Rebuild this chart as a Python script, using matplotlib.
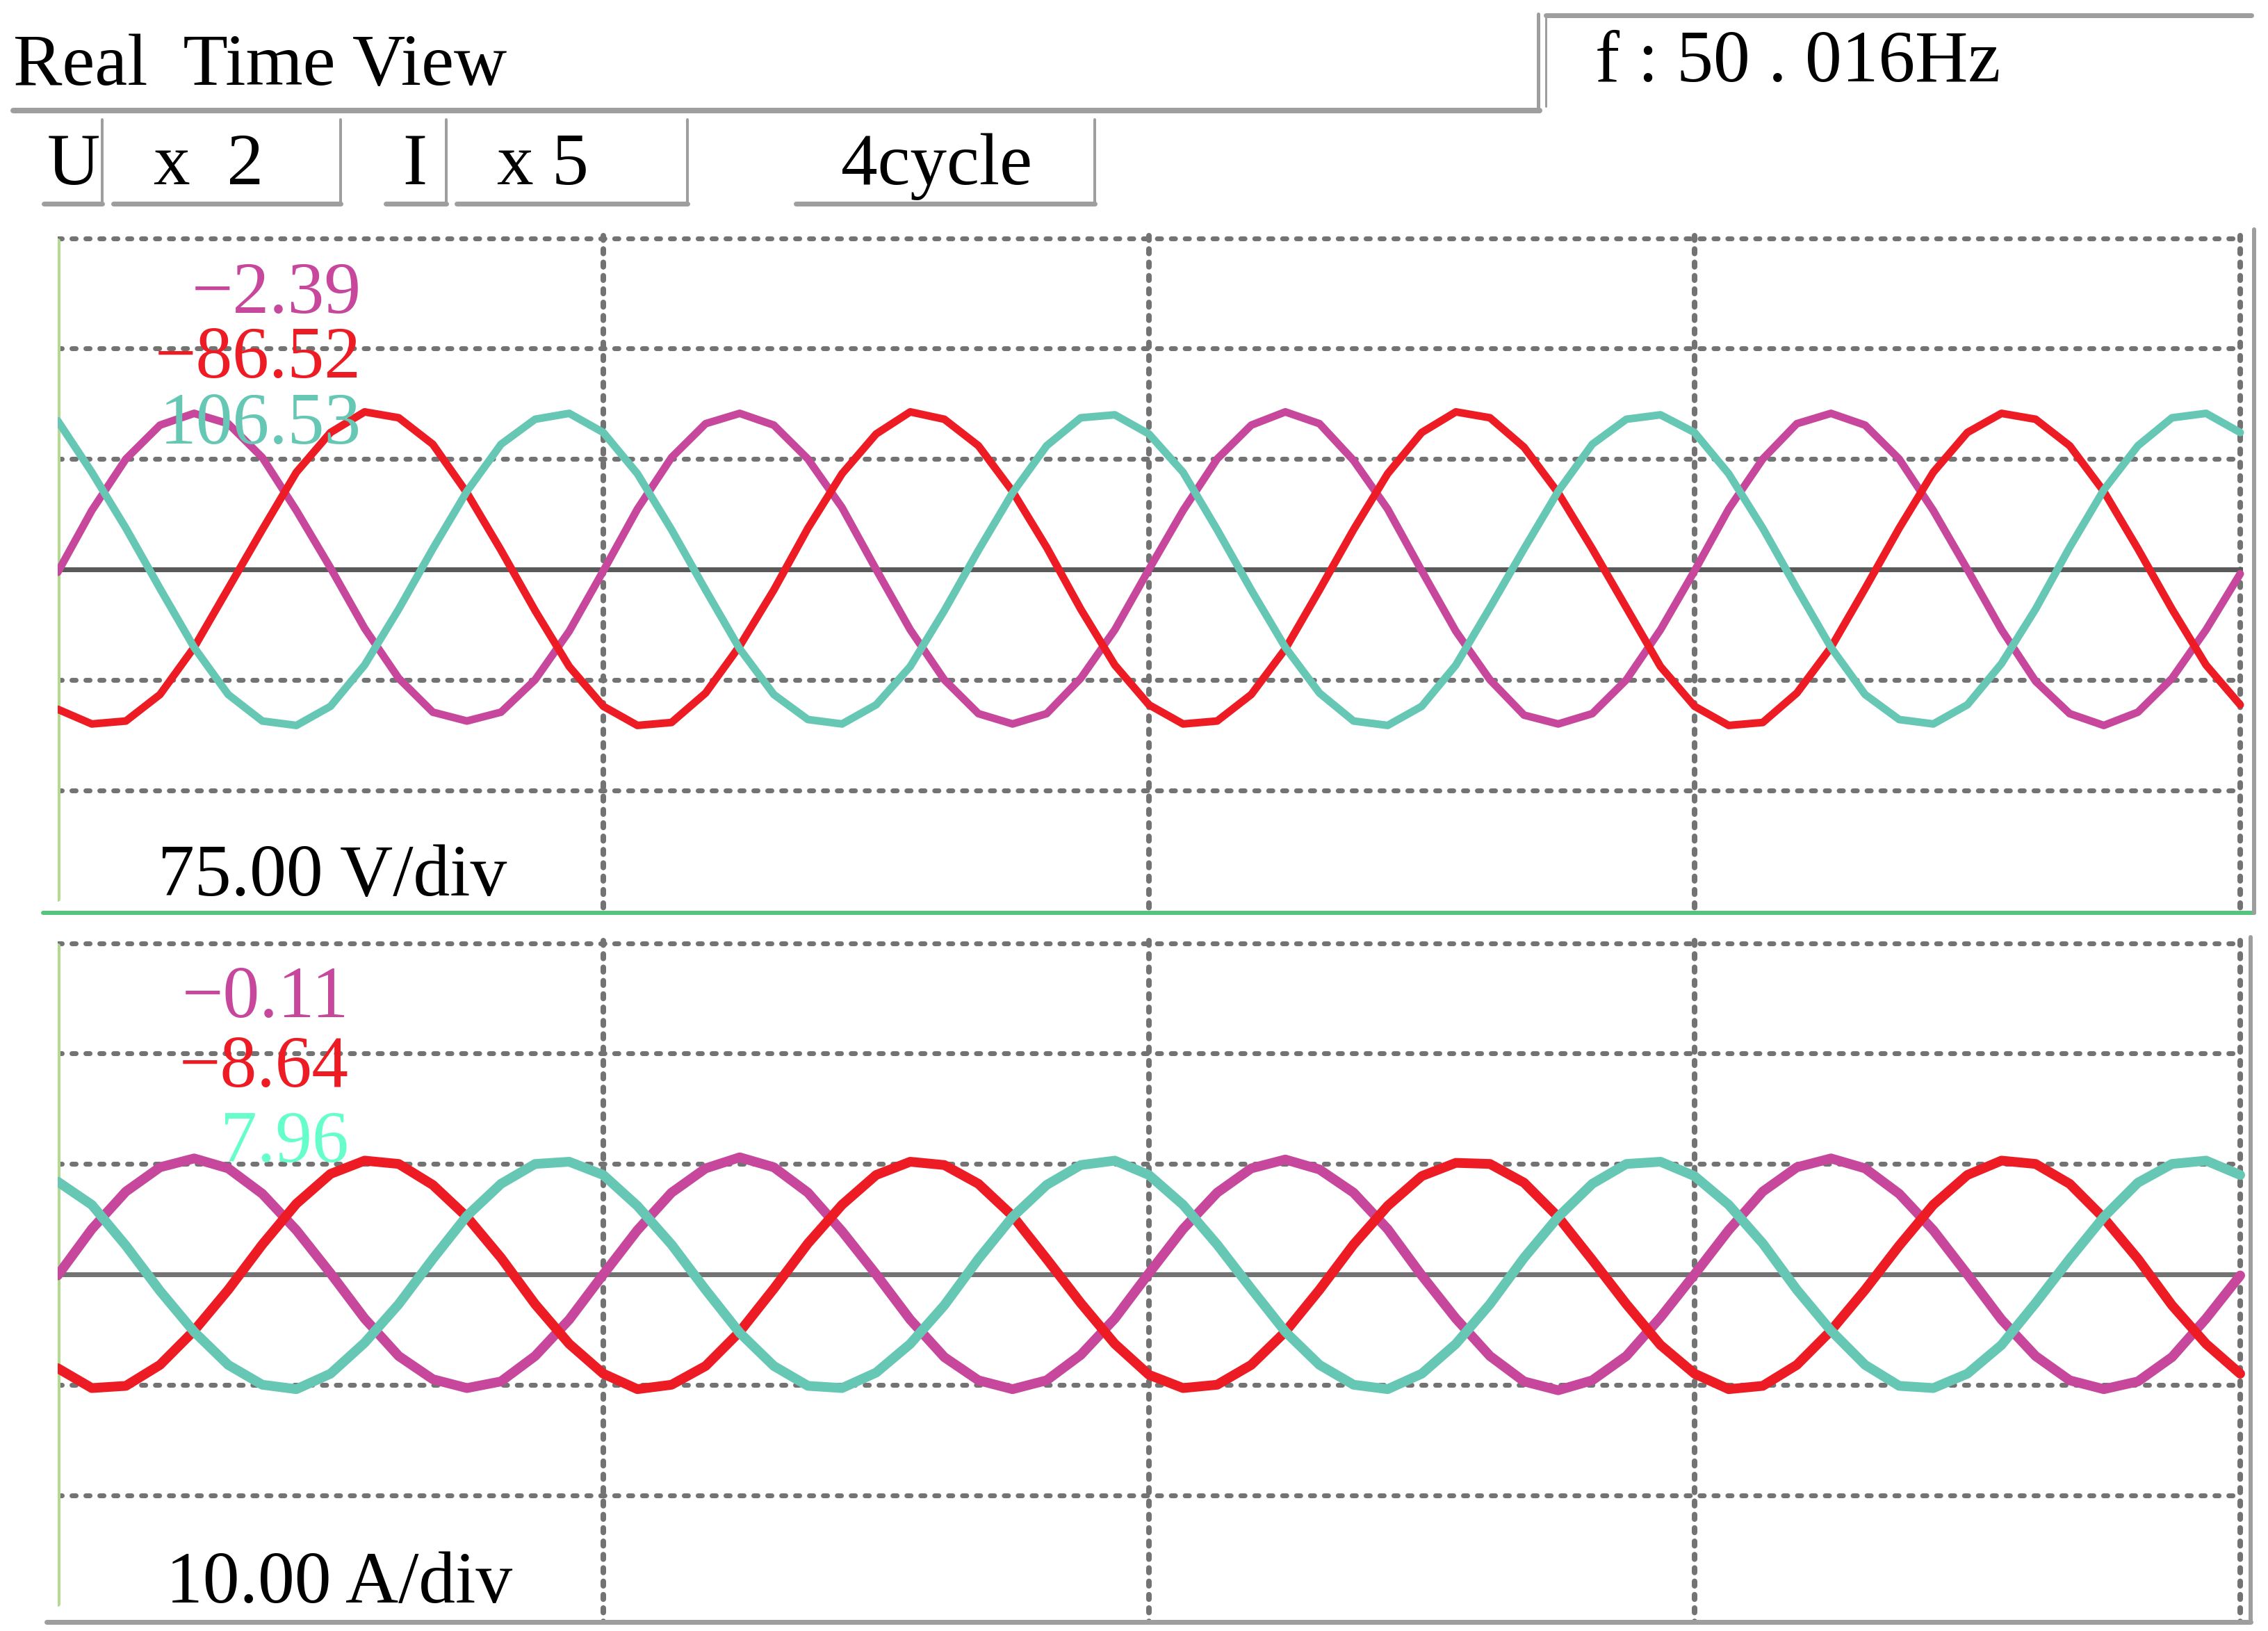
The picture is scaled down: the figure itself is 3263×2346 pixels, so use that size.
import numpy as np
import matplotlib
matplotlib.use("Agg")
import matplotlib.pyplot as plt

# ---------------- data ----------------
sample_step_ms = 1.25          # trace sampling interval (16 samples per 20 ms cycle)
cycle_ms = 20.0                # one division = one cycle
n_div_x = 4

header_title = "Real  Time View"
freq_label = "f : 50 . 016Hz"
u_label, u_gain = "U", "x  2"
i_label, i_gain = "I", "x 5"
cycles_label = "4cycle"
volt_scale_label = "75.00 V/div"
amp_scale_label = "10.00 A/div"
volt_per_div = 75.0
amp_per_div = 10.0

volt_readouts = ["\u22122.39", "\u221286.52", "106.53"]
amp_readouts = ["\u22120.11", "\u22128.64", "7.96"]

# phase voltages (V)
u_magenta = [-2, 40, 75, 98, 106, 99, 76, 40, 1, -40, -74, -97, -103, -97, -75, -42,
             -1, 41, 76, 99, 106, 98, 75, 42, 0, -41, -75, -98, -105, -98, -74, -41,
             0, 40, 75, 98, 107, 99, 74, 41, -1, -42, -75, -99, -105, -98, -75, -41,
             -1, 41, 75, 99, 106, 98, 75, 40, 0, -41, -76, -98, -106, -97, -74, -41,
             -3]
u_red = [-95, -105, -103, -85, -53, -13, 27, 66, 93, 107, 103, 85, 52, 13, -28, -66,
         -93, -106, -104, -84, -52, -14, 28, 65, 92, 107, 102, 84, 53, 15, -27, -65,
         -92, -105, -103, -85, -54, -14, 27, 65, 93, 107, 103, 83, 52, 14, -26, -66,
         -93, -106, -104, -84, -53, -13, 28, 66, 93, 106, 102, 84, 53, 14, -27, -65,
         -92]
u_teal = [101, 66, 28, -13, -53, -85, -103, -106, -93, -65, -27, 14, 53, 85, 102, 106,
          93, 65, 27, -14, -54, -85, -102, -105, -92, -66, -28, 13, 52, 84, 103, 105,
          92, 66, 27, -14, -53, -84, -103, -106, -93, -65, -26, 14, 53, 85, 102, 105,
          93, 65, 28, -13, -53, -85, -102, -105, -92, -64, -27, 15, 54, 84, 103, 106,
          93]

# phase currents (A)
i_magenta = [-0.1, 4.1, 7.5, 9.7, 10.5, 9.6, 7.3, 4.0, 0.1, -4.0, -7.4, -9.5, -10.3, -9.7, -7.4, -4.1,
             0.0, 4.0, 7.4, 9.6, 10.6, 9.7, 7.4, 3.9, 0.0, -4.1, -7.5, -9.6, -10.4, -9.6, -7.3, -4.0,
             0.1, 4.1, 7.4, 9.6, 10.4, 9.5, 7.4, 4.1, -0.1, -4.0, -7.4, -9.7, -10.5, -9.6, -7.4, -3.9,
             0.0, 4.0, 7.5, 9.7, 10.5, 9.6, 7.3, 4.0, 0.0, -4.1, -7.4, -9.6, -10.4, -9.7, -7.5, -4.0,
             -0.1]
i_red = [-8.5, -10.3, -10.1, -8.2, -5.1, -1.4, 2.7, 6.4, 9.1, 10.3, 10.0, 8.1, 5.2, 1.5, -2.7, -6.3,
         -9.0, -10.4, -10.0, -8.3, -5.2, -1.3, 2.8, 6.3, 9.0, 10.2, 9.9, 8.2, 5.3, 1.4, -2.6, -6.3,
         -9.1, -10.3, -10.0, -8.2, -5.2, -1.4, 2.7, 6.2, 8.9, 10.1, 10.0, 8.3, 5.2, 1.3, -2.7, -6.4,
         -9.0, -10.4, -10.1, -8.2, -5.1, -1.4, 2.6, 6.3, 9.0, 10.3, 10.0, 8.2, 5.1, 1.4, -2.8, -6.3,
         -9.0]
i_teal = [8.4, 6.3, 2.6, -1.5, -5.2, -8.2, -10.0, -10.4, -9.0, -6.2, -2.7, 1.4, 5.3, 8.2, 10.0, 10.2,
          9.0, 6.2, 2.7, -1.4, -5.3, -8.3, -10.1, -10.3, -8.9, -6.3, -2.8, 1.4, 5.2, 8.1, 9.9, 10.3,
          9.0, 6.3, 2.7, -1.3, -5.2, -8.2, -10.0, -10.4, -9.0, -6.3, -2.7, 1.5, 5.2, 8.2, 10.0, 10.2,
          8.9, 6.3, 2.8, -1.4, -5.1, -8.2, -10.1, -10.3, -9.0, -6.4, -2.6, 1.4, 5.2, 8.3, 10.0, 10.3,
          9.0]

# ---------------- style ----------------
W, H, DPI = 3263, 2346, 100
PT = 72.0 / DPI  # points per pixel

C_MAG = "#C6479C"
C_RED = "#ED1C24"
C_TEAL = "#66C8B4"
C_TEAL_TXT = "#66FFCC"
C_GRID = "#737373"
C_BORDER = "#9E9E9E"
C_GREEN_H = "#57C47E"
C_GREEN_V = "#B2DB90"
SERIF = ["Liberation Serif", "DejaVu Serif"]
FS = 76

plt.rcParams["font.family"] = SERIF

fig = plt.figure(figsize=(W / DPI, H / DPI), dpi=DPI)
fig.patch.set_facecolor("white")

# layout in pixels
X0 = 83            # time zero (left green line)
DIV_X = 785.0      # pixels per horizontal division
DIV_Y = 158.8      # pixels per vertical division


def make_panel(x_left, x_right, y_top, y_bot, y_center, per_div, center_color):
    ax = fig.add_axes([x_left / W, 1 - y_bot / H, (x_right - x_left) / W, (y_bot - y_top) / H])
    ax.set_xlim(0, (x_right - x_left) / DIV_X * cycle_ms)
    upp = per_div / DIV_Y
    ax.set_ylim(-(y_bot - y_center) * upp, (y_center - y_top) * upp)
    ax.axis("off")
    ax.patch.set_alpha(0)
    tmax = n_div_x * cycle_ms
    dot = dict(color=C_GRID, lw=7 * PT, linestyle=(0, (0.86, 2.0)),
               dash_capstyle="round", zorder=1)
    for k in [3, 2, 1, -1, -2]:
        ax.plot([0, tmax], [k * per_div, k * per_div], **dot)
    vdash = dict(color=C_GRID, lw=8 * PT, linestyle=(0, (0.8, 1.6)),
                 dash_capstyle="round", zorder=1)
    ybot = ax.get_ylim()[0]
    for k in range(1, n_div_x + 1):
        ax.plot([k * cycle_ms, k * cycle_ms], [3 * per_div + 4 * upp, ybot], **vdash)
    ax.plot([0, tmax], [0, 0], color=center_color, lw=7 * PT, zorder=2)
    ax.plot([0, 0], [-2.985 * per_div, 2.98 * per_div], color=C_GREEN_V, lw=7 * PT,
            solid_capstyle="round", zorder=2)
    return ax


ax_u = make_panel(X0, 3243, 330, 1313, 819, volt_per_div, "#5A5A5A")
ax_i = make_panel(X0, 3238, 1348, 2333, 1833, amp_per_div, "#737373")

t = np.arange(len(u_magenta)) * sample_step_ms
for ax, series, lw in [(ax_u, (u_magenta, u_red, u_teal), 11),
                       (ax_i, (i_magenta, i_red, i_teal), 14)]:
    for vals, col, z in zip(series, (C_MAG, C_RED, C_TEAL), (3, 4, 5)):
        ax.plot(t, vals, color=col, lw=lw * PT, solid_capstyle="round",
                solid_joinstyle="round", zorder=z)

# ---------------- overlay (frames, header, labels) ----------------
ov = fig.add_axes([0, 0, 1, 1])
ov.set_xlim(0, W)
ov.set_ylim(H, 0)
ov.axis("off")
ov.patch.set_alpha(0)


def seg(x1, y1, x2, y2, color=C_BORDER, w=7):
    ov.plot([x1, x2], [y1, y2], color=color, lw=w * PT, solid_capstyle="round")


# header frame
seg(19, 159, 2215, 159, w=8)
seg(2213, 20, 2213, 159, w=5)
seg(2224, 22, 2224, 153, w=3)
seg(2224, 22, 3239, 22, w=7)
# header boxes (bottom and right edges)
for xl, xr in [(63, 147), (163, 490), (555, 642), (657, 989), (1145, 1575)]:
    seg(xl, 293, xr, 293, w=7)
    seg(xr, 172, xr, 293, w=4)

# panel frames
seg(62, 1313, 3243, 1313, color=C_GREEN_H, w=6)
seg(3243, 330, 3243, 1313, w=6)
seg(3238, 1348, 3238, 2333, w=6)
seg(67, 2333, 3238, 2333, w=7)

txt = dict(fontsize=FS, va="baseline", family=SERIF)
ov.text(19, 122, header_title, ha="left", color="black", **txt)
ov.text(2295, 117, freq_label, ha="left", color="black", **txt)
ov.text(68, 265, u_label, ha="left", color="black", **txt)
ov.text(221, 265, u_gain, ha="left", color="black", **txt)
ov.text(579, 265, i_label, ha="left", color="black", **txt)
ov.text(715, 265, i_gain, ha="left", color="black", **txt)
ov.text(1210, 265, cycles_label, ha="left", color="black", **txt)
ov.text(227, 1288, volt_scale_label, ha="left", color="black", **txt)
ov.text(239, 2305, amp_scale_label, ha="left", color="black", **txt)

for s, y, c in zip(volt_readouts, [450, 543, 638], [C_MAG, C_RED, C_TEAL]):
    ov.text(520, y, s, ha="right", color=c, **txt)
for s, y, c in zip(amp_readouts, [1463, 1563, 1671], [C_MAG, C_RED, C_TEAL_TXT]):
    ov.text(502, y, s, ha="right", color=c, **txt)

fig.savefig("out.png", dpi=DPI, facecolor="white")
